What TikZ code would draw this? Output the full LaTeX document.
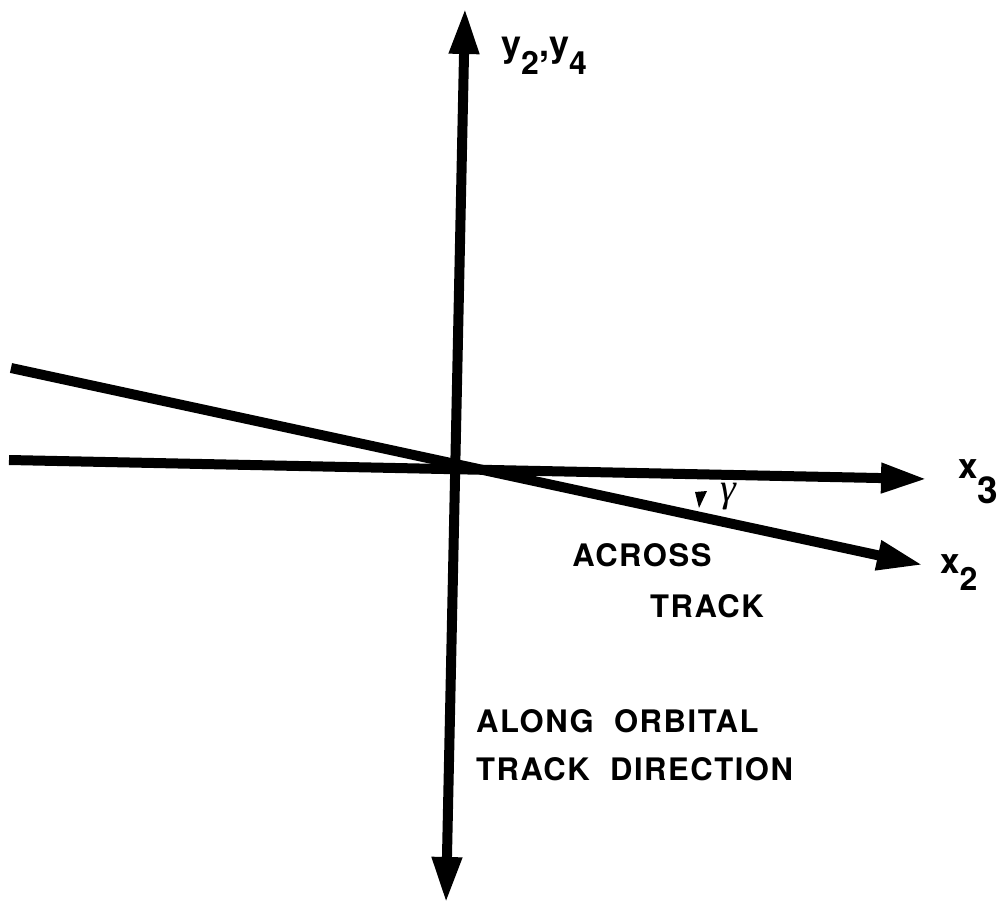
\documentclass[tikz,border=0pt]{standalone}
\usepackage{fontspec}
\setmainfont{TeX Gyre Heros}
\newfontfamily\capsfont[LetterSpace=5]{TeX Gyre Heros}
\newfontfamily\greekfont{Liberation Serif}
\usetikzlibrary{arrows.meta}
% lowered subscript: drop, size, digit
\newcommand{\lowsub}[3]{\raisebox{-#1pt}{\fontsize{#2}{#2}\selectfont #3}}
\tikzset{
    axis/.style={line width=10pt, -{Triangle[length=46pt, width=28pt]}},
    caption/.style={font=\capsfont\bfseries\fontsize{31}{48}\selectfont, align=left, inner sep=0pt},
    axislabel/.style={font=\bfseries\fontsize{35}{38}\selectfont, inner sep=0pt, anchor=base west}
}
\begin{document}
\begin{tikzpicture}[x=1pt, y=-1pt]
    \useasboundingbox (0,0) rectangle (1005,905);

    % Axis ends
    \coordinate (ytop) at (465,8);
    \coordinate (ybot) at (446,903);
    \coordinate (xthreeleft) at (9,460);
    \coordinate (xthreetip) at (927,479);
    \coordinate (xtwoleft) at (11,368);
    \coordinate (xtwotip) at (923,565);

    % Axes
    \draw[axis] (xthreeleft) -- (xthreetip);
    \draw[axis] (xtwoleft) -- (xtwotip);
    \draw[axis, {Triangle[length=46pt, width=28pt]}-{Triangle[length=46pt, width=28pt]}] (ybot) -- (ytop);

    % Angle mark
    \fill (695,492) -- (707,491) -- (699,508) -- cycle;
    \node[font=\greekfont\itshape\fontsize{40}{44}\selectfont, inner sep=0pt] (gamma) at (728,497) {γ};

    % Axis labels
    \node[axislabel, font=\bfseries\fontsize{36}{38}\selectfont] (ylabel) at (501,56) {y\lowsub{18}{32}{2},y\lowsub{18}{32}{4}};
    \node[axislabel] (xthreelabel) at (958,478) {x\lowsub{25}{37}{3}};
    \node[axislabel] (xtwolabel) at (940,573) {x\lowsub{17}{32}{2}};

    % Captions
    \node[caption] (across) at (642,555) {ACROSS};
    \node[caption] (track) at (707,606) {TRACK};
    \node[caption, anchor=north west] (along) at (476,709) {ALONG\ \ ORBITAL\\TRACK\ \ DIRECTION};
\end{tikzpicture}
\end{document}
